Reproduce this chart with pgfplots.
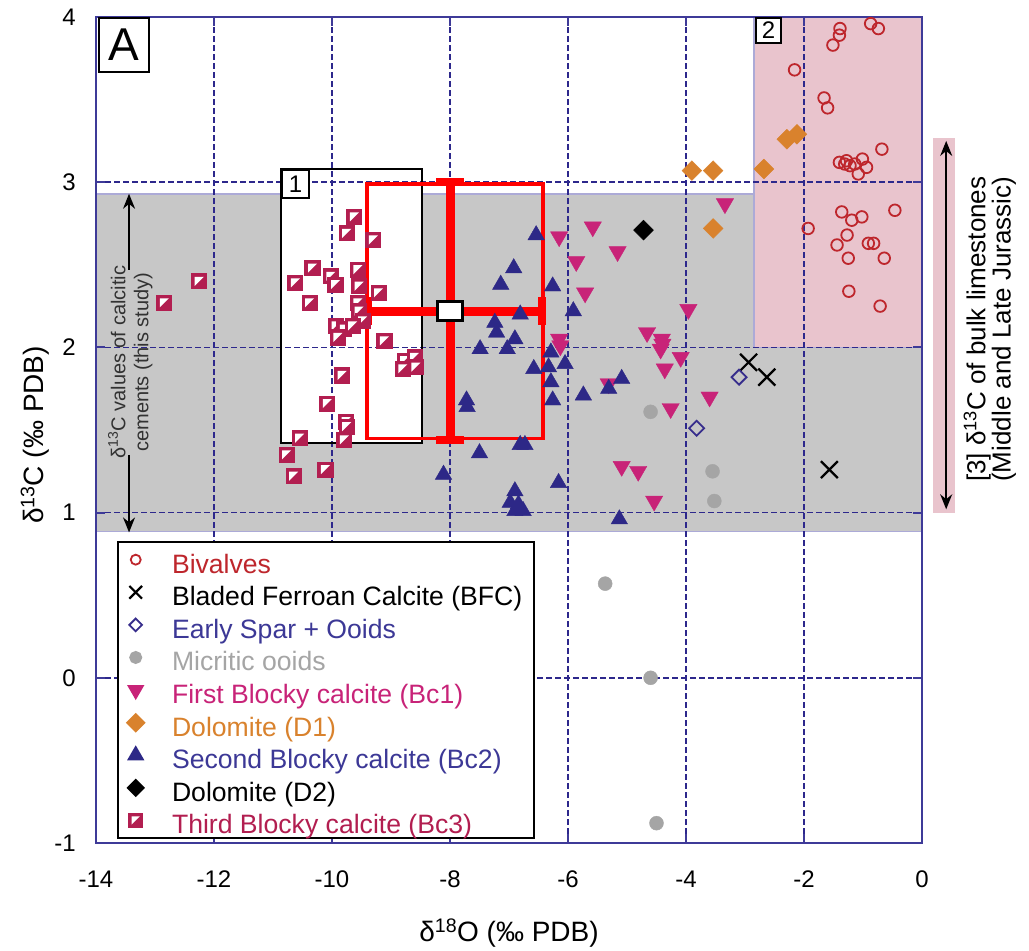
\documentclass[border=0pt]{standalone}
\usepackage{pgfplots}
\pgfplotsset{compat=1.18}
\usepackage{fontspec}
\setmainfont{Liberation Sans}
\usetikzlibrary{arrows.meta}
\definecolor{axisblue}{RGB}{62,58,152}
\definecolor{gridblue}{RGB}{45,40,140}
\definecolor{regiongray}{RGB}{199,199,199}
\definecolor{regionpink}{RGB}{233,196,205}
\definecolor{regionedge}{RGB}{172,170,215}
\definecolor{bivred}{RGB}{190,38,44}
\definecolor{spblue}{RGB}{55,45,140}
\definecolor{micgray}{RGB}{165,165,165}
\definecolor{bcone}{RGB}{200,35,120}
\definecolor{dolor}{RGB}{217,130,45}
\definecolor{bctwo}{RGB}{45,40,135}
\definecolor{bcthree}{RGB}{178,30,80}
\definecolor{txtblue}{RGB}{60,56,150}
\definecolor{txtgray}{RGB}{50,50,50}

\pgfdeclareplotmark{halfsq}{%
  \pgfpathrectangle{\pgfqpoint{-\pgfplotmarksize}{-\pgfplotmarksize}}{\pgfqpoint{2\pgfplotmarksize}{2\pgfplotmarksize}}%
  \pgfusepathqfillstroke
  \begin{pgfscope}%
  \pgfsetfillcolor{white}%
  \pgfpathmoveto{\pgfqpoint{-.62\pgfplotmarksize}{.62\pgfplotmarksize}}%
  \pgfpathlineto{\pgfqpoint{.62\pgfplotmarksize}{.62\pgfplotmarksize}}%
  \pgfpathlineto{\pgfqpoint{-.62\pgfplotmarksize}{-.62\pgfplotmarksize}}%
  \pgfpathclose
  \pgfusepathqfill
  \end{pgfscope}%
}
\pgfplotsset{lgmark/.style={legend image code/.code={%
  \draw[mark repeat=2,mark phase=2,##1,mark size=#1] plot coordinates {(0cm,0cm) (0.3cm,0cm) (0.6cm,0cm)};}}}

\begin{document}
\begin{tikzpicture}
\path (0,0) rectangle (1029pt,948pt);
\begin{axis}[
  at={(96pt,105pt)}, anchor=south west,
  width=826pt, height=826pt, scale only axis,
  xmin=-14, xmax=0, ymin=-1, ymax=4,
  set layers=standard, clip=false,
  xtick={-14,-12,...,0}, xticklabels={-14,-12,-10,-8,-6,-4,-2,0},
  ytick={-1,0,...,4}, yticklabels={-1,0,1,2,3,4},
  grid=major,
  major grid style={dash pattern=on 5.5pt off 3.5pt, line width=1.5pt, gridblue},
  axis line style={line width=2.5pt, axisblue},
  tick style={line width=2pt, axisblue},
  major tick length=9pt,
  tick label style={font=\fontsize{24}{28}\selectfont, inner sep=0pt, black},
  xticklabel style={anchor=center, yshift=-36pt},
  yticklabel style={anchor=east, xshift=-20pt},
  xlabel={δ\textsuperscript{18}O (‰ PDB)},
  ylabel={δ\textsuperscript{13}C (‰ PDB)},
  label style={font=\fontsize{28}{32}\selectfont},
  xlabel style={at={(axis description cs:0.5,-0.109)}, anchor=center},
  ylabel style={at={(axis description cs:-0.074,0.494)}, anchor=center},
  legend style={at={(axis cs:-13.64,0.83)}, anchor=north west, draw=black, line width=2pt, fill=white,
    font=\fontsize{26.6}{31}\selectfont, inner xsep=9pt, inner ysep=1.7pt, row sep=0pt, column sep=25pt,
    nodes={inner sep=2.8pt, text height=27pt, text depth=0pt}},
  legend cell align=left,
]
% background regions
\addplot[forget plot, on layer=axis background, fill=regiongray, draw=regionedge, line width=1.5pt]
  coordinates {(-14,0.885) (0,0.885) (0,2) (-2.85,2) (-2.85,2.93) (-14,2.93)} --cycle;
\addplot[forget plot, on layer=axis background, fill=regionpink, draw=regionedge, line width=1.5pt]
  coordinates {(-2.85,2) (0,2) (0,4) (-2.85,4)} --cycle;
\addplot[forget plot, on layer=axis background, fill=white, draw=none]
  coordinates {(-10.86,1.42) (-8.47,1.42) (-8.47,3.08) (-10.86,3.08)} --cycle;
% box 1 and red box
\addplot[forget plot, black, line width=2pt, mark=none]
  coordinates {(-10.86,1.42) (-8.47,1.42) (-8.47,3.08) (-10.86,3.08)} --cycle;
\addplot[forget plot, red, line width=3.5pt, mark=none]
  coordinates {(-9.41,1.45) (-6.42,1.45) (-6.42,2.99) (-9.41,2.99)} --cycle;

% data
\addplot[only marks, mark=o, mark size=5.8pt, bivred, mark options={line width=1.8pt}, lgmark=5pt]
  coordinates {(-1.39,3.93) (-1.40,3.89) (-1.51,3.83) (-0.87,3.96) (-0.74,3.93) (-2.16,3.68)
  (-1.66,3.51) (-1.60,3.45) (-0.68,3.20) (-1.40,3.12) (-1.28,3.13) (-1.22,3.10) (-1.14,3.11)
  (-1.01,3.14) (-0.94,3.09) (-1.08,3.05) (-1.31,3.11) (-0.46,2.83) (-1.36,2.82) (-1.19,2.77)
  (-1.02,2.79) (-1.93,2.72) (-1.27,2.68) (-1.44,2.62) (-0.91,2.63) (-0.82,2.63) (-1.25,2.54)
  (-0.64,2.54) (-1.24,2.34) (-0.71,2.25)};
\addlegendentry{\textcolor{bivred}{Bivalves}}

\addplot[only marks, mark=x, mark size=12pt, black, mark options={line width=2.2pt}, lgmark=9pt]
  coordinates {(-2.94,1.91) (-2.63,1.82) (-1.57,1.26)};
\addlegendentry{Bladed Ferroan Calcite (BFC)}

\addplot[only marks, mark=square, mark size=5.3pt, spblue, mark options={rotate=45, line width=1.8pt}, lgmark=4.5pt]
  coordinates {(-3.10,1.82) (-3.82,1.51)};
\addlegendentry{\textcolor{txtblue}{Early Spar + Ooids}}

\addplot[only marks, mark=*, mark size=7pt, micgray, mark options={draw=none, fill=micgray}, lgmark=5.5pt]
  coordinates {(-4.60,1.61) (-3.55,1.25) (-3.52,1.07) (-5.37,0.57) (-4.60,0.00) (-4.50,-0.88)};
\addlegendentry{\textcolor{micgray}{Micritic ooids}}

\addplot[only marks, mark=triangle*, mark size=10pt, bcone, mark options={rotate=180, draw=none, fill=bcone}, lgmark=8pt]
  coordinates {(-6.15,2.67) (-5.58,2.73) (-5.16,2.58) (-5.86,2.52) (-5.71,2.33) (-3.34,2.87)
  (-3.96,2.23) (-6.15,2.05) (-6.13,2.01) (-4.66,2.09) (-4.41,2.05) (-4.40,2.02) (-4.43,1.99)
  (-4.09,1.94) (-4.36,1.87) (-3.60,1.70) (-4.26,1.63) (-5.31,1.78) (-5.09,1.28) (-4.81,1.25)
  (-4.54,1.07)};
\addlegendentry{\textcolor{bcone}{First Blocky calcite (Bc1)}}

\addplot[only marks, mark=square*, mark size=7pt, dolor, mark options={rotate=45, draw=none, fill=dolor}, lgmark=6pt]
  coordinates {(-3.90,3.07) (-3.54,3.07) (-3.54,2.72) (-2.29,3.26) (-2.12,3.29) (-2.68,3.08)};
\addlegendentry{\textcolor{dolor}{Dolomite (D1)}}

\addplot[only marks, mark=triangle*, mark size=9.5pt, bctwo, mark options={draw=none, fill=bctwo}, lgmark=8pt]
  coordinates {(-6.54,2.68) (-6.92,2.48) (-7.14,2.38) (-6.26,2.37) (-5.91,2.22) (-6.81,2.20)
  (-7.24,2.15) (-7.21,2.09) (-6.90,2.05) (-7.49,1.99) (-7.03,1.99) (-6.29,1.97) (-6.05,1.90)
  (-6.58,1.87) (-6.33,1.88) (-6.29,1.79) (-5.09,1.81) (-5.31,1.75) (-5.74,1.71) (-6.26,1.68)
  (-7.72,1.68) (-7.71,1.64) (-6.81,1.41) (-6.73,1.41) (-7.50,1.36) (-8.11,1.23) (-6.16,1.18)
  (-6.90,1.13) (-6.98,1.06) (-6.84,1.05) (-6.90,1.01) (-6.76,1.01) (-5.13,0.96)};
\addlegendentry{\textcolor{txtblue}{Second Blocky calcite (Bc2)}}

\addplot[only marks, mark=square*, mark size=7pt, black, mark options={rotate=45, draw=none, fill=black}, lgmark=5.5pt]
  coordinates {(-4.72,2.71)};
\addlegendentry{Dolomite (D2)}

\addplot[only marks, mark=halfsq, mark size=7.3pt, bcthree, mark options={line width=1.5pt, draw=bcthree, fill=bcthree}, lgmark=6.5pt]
  coordinates {(-9.62,2.79) (-9.75,2.69) (-9.30,2.65) (-10.33,2.48) (-10.62,2.39) (-10.02,2.43)
  (-9.94,2.38) (-9.56,2.47) (-9.54,2.37) (-9.21,2.33) (-10.38,2.27) (-9.56,2.27) (-9.54,2.22)
  (-9.48,2.16) (-9.93,2.13) (-9.79,2.11) (-9.65,2.13) (-9.90,2.06) (-9.11,2.04) (-8.77,1.92)
  (-8.60,1.94) (-8.80,1.87) (-8.58,1.88) (-9.83,1.83) (-10.08,1.66) (-9.76,1.55) (-9.75,1.52)
  (-9.79,1.44) (-10.55,1.45) (-10.77,1.35) (-10.11,1.26) (-10.65,1.22) (-12.25,2.40) (-12.84,2.27)};
\addlegendentry{\textcolor{bcthree}{Third Blocky calcite (Bc3)}}

% red cross (mean with range)
\addplot[forget plot, draw=none, mark=none, red,
  error bars/.cd, x dir=both, x explicit, y dir=both, y explicit,
  error bar style={line width=9pt, red},
  error mark options={rotate=90, mark size=14pt, line width=8pt, red}]
  coordinates {(-8,2.22) += (1.56,0.78) -= (1.39,0.78)};
\addplot[forget plot, only marks, mark=square*, mark size=9.5pt,
  mark options={fill=white, draw=black, line width=3pt, xscale=1.3}]
  coordinates {(-8,2.22)};

% left annotation
\draw[-{Stealth[length=15pt,width=12pt]}, line width=1.6pt] (axis cs:-13.44,2.47) -- (axis cs:-13.44,2.93);
\draw[-{Stealth[length=15pt,width=12pt]}, line width=1.6pt] (axis cs:-13.44,1.35) -- (axis cs:-13.44,0.88);
\node[rotate=90, align=center, text=txtgray, font=\fontsize{20}{23}\selectfont, inner sep=0pt]
  at (axis cs:-13.42,1.91) {δ\textsuperscript{13}C values of calcitic\\cements (this study)};

% right annotation
\fill[regionpink] (axis cs:0.19,1.0) rectangle (axis cs:0.56,3.27);
\draw[{Stealth[length=15pt,width=12pt]}-{Stealth[length=15pt,width=12pt]}, line width=1.6pt]
  (axis cs:0.41,1.02) -- (axis cs:0.41,3.25);
\node[rotate=90, align=center, font=\fontsize{26}{24}\selectfont, inner sep=0pt]
  at (axis cs:1.15,2.11) {[3] δ\textsuperscript{13}C of bulk limestones\\(Middle and Late Jurassic)};

% panel labels
\node[draw=black, line width=2pt, fill=white, anchor=north west, minimum width=50pt, minimum height=54pt,
  inner sep=0pt, font=\fontsize{46}{46}\selectfont] at (axis cs:-13.97,4) {A};
\node[draw=black, line width=1.8pt, fill=white, anchor=north west, minimum width=25pt, minimum height=25pt,
  inner sep=0pt, font=\fontsize{24}{24}\selectfont] at (axis cs:-2.83,4) {2};
\node[draw=black, line width=1.8pt, fill=white, anchor=north west, minimum width=27pt, minimum height=28pt,
  inner sep=0pt, font=\fontsize{24}{24}\selectfont] at (axis cs:-10.86,3.08) {1};
\end{axis}
\end{tikzpicture}
\end{document}
